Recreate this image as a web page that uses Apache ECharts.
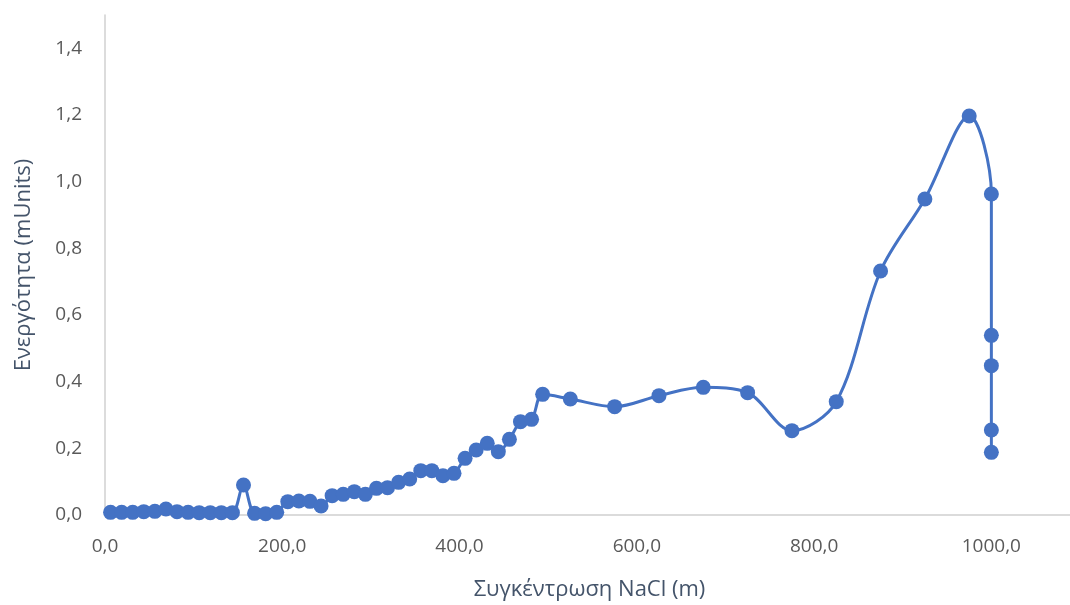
<!DOCTYPE html>
<html>
<head>
<meta charset="utf-8">
<script src="https://cdn.jsdelivr.net/npm/echarts@6/dist/echarts.min.js"></script>
<style>
  html, body { margin: 0; padding: 0; background: #ffffff; }
  #chart { width: 1070px; height: 605px; }
</style>
</head>
<body>
<div id="chart"></div>
<script>
// NaCl concentration (m) and measured activity (mUnits)
const naclConc = [
  6.25, 18.75, 31.25, 43.75, 56.25, 68.75, 81.25, 93.75, 106.25, 118.75,
  131.25, 143.75, 156.25, 168.75, 181.25, 193.75, 206.25, 218.75, 231.25, 243.75,
  256.25, 268.75, 281.25, 293.75, 306.25, 318.75, 331.25, 343.75, 356.25, 368.75,
  381.25, 393.75, 406.25, 418.75, 431.25, 443.75, 456.25, 468.75, 481.25, 493.75,
  525, 575, 625, 675, 725, 775, 825, 875, 925, 975,
  1000, 1000, 1000, 1000, 1000
];
const activity = [
  0.008, 0.008, 0.008, 0.010, 0.011, 0.018, 0.010, 0.008, 0.007, 0.007,
  0.007, 0.007, 0.090, 0.005, 0.004, 0.008, 0.040, 0.042, 0.041, 0.027,
  0.058, 0.062, 0.070, 0.062, 0.080, 0.082, 0.098, 0.108, 0.133, 0.133,
  0.118, 0.125, 0.170, 0.195, 0.215, 0.190, 0.227, 0.280, 0.287, 0.362,
  0.348, 0.325, 0.358, 0.383, 0.367, 0.253, 0.340, 0.732, 0.948, 1.197,
  0.963, 0.539, 0.448, 0.255, 0.188
];

const xTitle = 'Συγκέντρωση NaCl (m)';
const yTitle = 'Ενεργότητα (mUnits)';

const points = naclConc.map((x, i) => [x, activity[i]]);
const fmt = v => v.toFixed(1).replace('.', ',');
const fontFamily = '"Open Sans", "DejaVu Sans", sans-serif';

const chart = echarts.init(document.getElementById('chart'), null, { renderer: 'canvas' });
chart.setOption({
  animation: false,
  backgroundColor: '#ffffff',
  grid: {
    left: 105, right: -10, top: 15, bottom: 90,
    containLabel: false, outerBoundsMode: 'none'
  },
  xAxis: {
    type: 'value',
    min: 0,
    max: 1100,
    interval: 200,
    name: xTitle,
    nameLocation: 'middle',
    nameGap: 64,
    nameTextStyle: { color: '#44546a', fontSize: 22, fontFamily, padding: [0, 6, 0, 0] },
    axisLine: { show: true, lineStyle: { color: '#d0d0d0', width: 1.5 } },
    axisTick: { show: false },
    splitLine: { show: false },
    axisLabel: {
      color: '#595959', fontSize: 19, fontFamily, margin: 22,
      formatter: v => (v > 1000 ? '' : fmt(v))
    }
  },
  yAxis: {
    type: 'value',
    min: 0,
    max: 1.5,
    interval: 0.2,
    name: yTitle,
    nameLocation: 'middle',
    nameGap: 70,
    nameRotate: 90,
    nameTextStyle: { color: '#44546a', fontSize: 22, fontFamily },
    axisLine: { show: true, lineStyle: { color: '#d0d0d0', width: 1.5 } },
    axisTick: { show: false },
    splitLine: { show: false },
    axisLabel: {
      color: '#595959', fontSize: 19, fontFamily, margin: 23,
      formatter: v => (v > 1.45 ? '' : fmt(v))
    }
  },
  series: [{
    type: 'line',
    data: points,
    smooth: 0.33,
    symbol: 'circle',
    symbolSize: 15,
    showAllSymbol: true,
    itemStyle: { color: '#4472c4' },
    lineStyle: { color: '#4472c4', width: 3 }
  }]
});
</script>
</body>
</html>
